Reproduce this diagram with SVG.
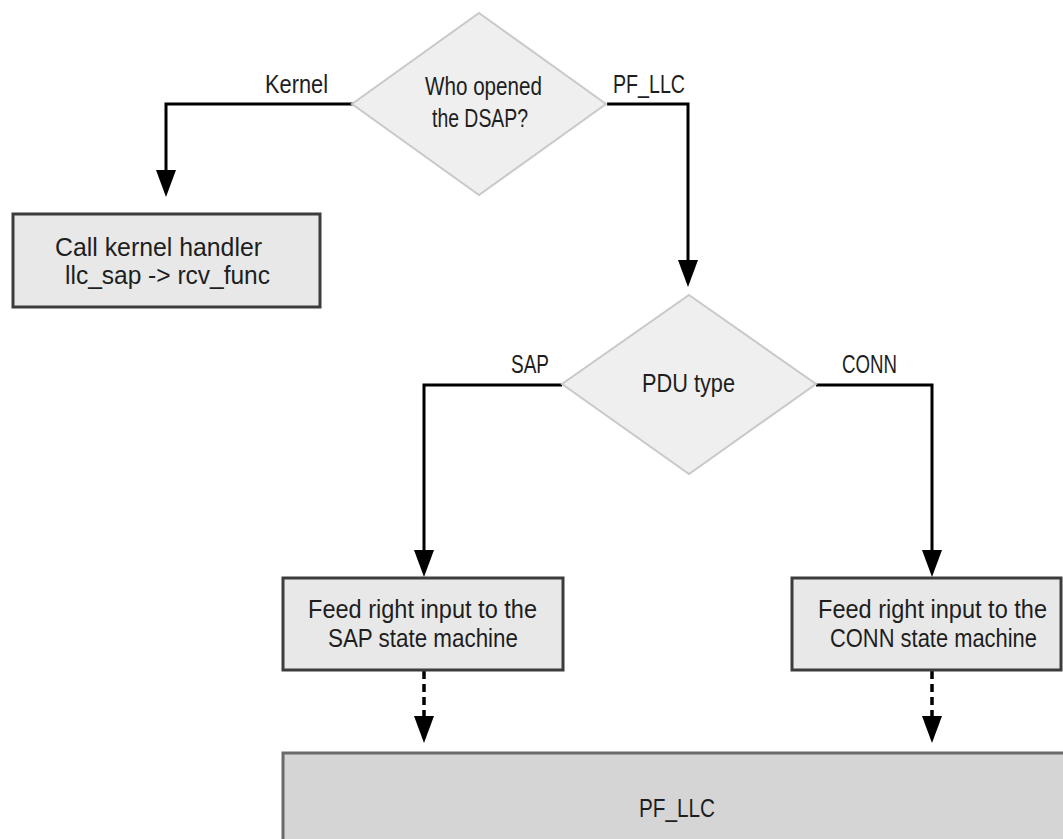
<svg xmlns="http://www.w3.org/2000/svg" width="1063" height="839" viewBox="0 0 1063 839">
<style>
  text { font-family: "Liberation Sans Narrow", "Liberation Sans", Arial, sans-serif; font-size: 25px; fill: #1e1e1e; text-anchor: middle; }
  .diamond { fill: #efefef; stroke: #c9c9c9; stroke-width: 2; }
  .box { fill: #e8e8e8; stroke: #3c3c3c; stroke-width: 3; }
  .big { fill: #d5d5d5; stroke: #6a6a6a; stroke-width: 3; }
  .conn { fill: none; stroke: #000; stroke-width: 3; }
  .dash { stroke-dasharray: 8 5; stroke-width: 3.5; }
</style>
<defs>
  <marker id="arrow" markerUnits="userSpaceOnUse" markerWidth="28" markerHeight="20" refX="0" refY="10" orient="auto" viewBox="0 0 28 20">
    <path d="M0,0 L27,10 L0,20 Z" fill="#000"/>
  </marker>
</defs>
<rect width="1063" height="839" fill="#fff"/>

<g id="connectors">
  <path class="conn" d="M353,104 H166 V170" marker-end="url(#arrow)"/>
  <path class="conn" d="M607,104 H688 V260" marker-end="url(#arrow)"/>
  <path class="conn" d="M562,385 H424 V550" marker-end="url(#arrow)"/>
  <path class="conn" d="M816,385 H932 V550" marker-end="url(#arrow)"/>
  <path class="conn dash" d="M424,671 V716" marker-end="url(#arrow)"/>
  <path class="conn dash" d="M932,671 V716" marker-end="url(#arrow)"/>
  <text x="296.5" y="93" textLength="63" lengthAdjust="spacingAndGlyphs">Kernel</text>
  <text x="649" y="93" textLength="72" lengthAdjust="spacingAndGlyphs">PF_LLC</text>
  <text x="530" y="373" textLength="38" lengthAdjust="spacingAndGlyphs">SAP</text>
  <text x="869.5" y="373" textLength="55" lengthAdjust="spacingAndGlyphs">CONN</text>
</g>

<g id="who-opened">
  <polygon class="diamond" points="479,13 606,104 479,195 352,104"/>
  <text x="483.5" y="95" textLength="117" lengthAdjust="spacingAndGlyphs">Who opened</text>
  <text x="480" y="127" textLength="96" lengthAdjust="spacingAndGlyphs">the DSAP?</text>
</g>

<g id="kernel-handler">
  <rect class="box" x="13" y="214" width="307" height="93"/>
  <text x="158.5" y="256" textLength="207" lengthAdjust="spacingAndGlyphs">Call kernel handler</text>
  <text x="167.5" y="284" textLength="205" lengthAdjust="spacingAndGlyphs">llc_sap -&gt; rcv_func</text>
</g>

<g id="pdu-type">
  <polygon class="diamond" points="689,295 816,384 689,474 562,384"/>
  <text x="688.5" y="392" textLength="93" lengthAdjust="spacingAndGlyphs">PDU type</text>
</g>

<g id="sap-sm">
  <rect class="box" x="283" y="578" width="280" height="92"/>
  <text x="422.5" y="618" textLength="229" lengthAdjust="spacingAndGlyphs">Feed right input to the</text>
  <text x="423" y="647" textLength="190" lengthAdjust="spacingAndGlyphs">SAP state machine</text>
</g>

<g id="conn-sm">
  <rect class="box" x="792" y="578" width="269" height="92"/>
  <text x="932.5" y="618" textLength="229" lengthAdjust="spacingAndGlyphs">Feed right input to the</text>
  <text x="933.5" y="647" textLength="207" lengthAdjust="spacingAndGlyphs">CONN state machine</text>
</g>

<g id="pf-llc">
  <rect class="big" x="283" y="753" width="790" height="100"/>
  <text x="677" y="817" textLength="76" lengthAdjust="spacingAndGlyphs">PF_LLC</text>
</g>
</svg>
